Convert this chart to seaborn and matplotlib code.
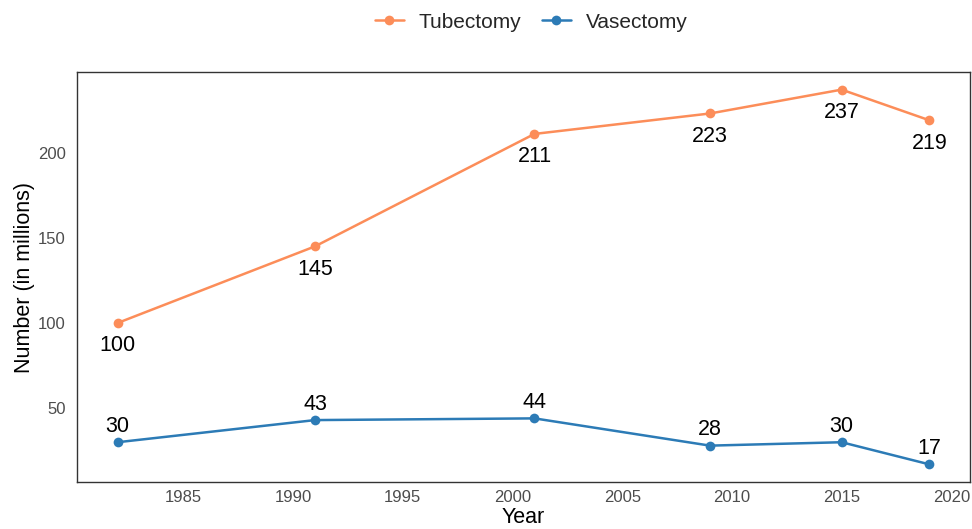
import matplotlib
matplotlib.use("Agg")
import matplotlib.pyplot as plt
import seaborn as sns
import pandas as pd

years = [1982, 1991, 2001, 2009, 2015, 2019]
tubectomy = [100, 145, 211, 223, 237, 219]
vasectomy = [30, 43, 44, 28, 30, 17]
series_names = ["Tubectomy", "Vasectomy"]
colors = {"Tubectomy": "#FC8D59", "Vasectomy": "#2C7BB6"}

df = pd.DataFrame({
    "Year": years * 2,
    "Value": tubectomy + vasectomy,
    "Method": [series_names[0]] * len(years) + [series_names[1]] * len(years),
})

sns.set_theme(style="white")
plt.rcParams["font.family"] = ["Liberation Sans", "DejaVu Sans"]

fig = plt.figure(figsize=(9.72, 5.29), dpi=100)
ax = fig.add_axes([77/972, 1-482/529, (970-77)/972, (482-72)/529])

sns.lineplot(data=df, x="Year", y="Value", hue="Method", hue_order=series_names,
             palette=colors, marker="o", markersize=7, markeredgewidth=0,
             linewidth=1.8, ax=ax, legend=True)

for x, y in zip(years, tubectomy):
    ax.annotate(str(y), (x, y), xytext=(0, -9), textcoords="offset points",
                ha="center", va="top", fontsize=15.5, color="black")
for x, y in zip(years, vasectomy):
    ax.annotate(str(y), (x, y), xytext=(0, 4), textcoords="offset points",
                ha="center", va="bottom", fontsize=15.5, color="black")

ax.set_xlim(1980.15, 2020.85)
ax.set_ylim(6.65, 247.35)
ax.set_xticks([1985, 1990, 1995, 2000, 2005, 2010, 2015, 2020])
ax.set_yticks([50, 100, 150, 200])
ax.tick_params(axis="both", labelsize=12, labelcolor="#4D4D4D", length=0)
ax.tick_params(axis="x", pad=6)
ax.tick_params(axis="y", pad=8)
ax.set_xlabel("Year", fontsize=15.5, color="black", labelpad=1)
ax.set_ylabel("Number (in millions)", fontsize=15.5, color="black", labelpad=2)
ax.grid(False)
for s in ax.spines.values():
    s.set_color("#333333")
    s.set_linewidth(1.0)

handles, labels = ax.get_legend_handles_labels()
ax.legend(handles, labels, loc="center", bbox_to_anchor=(531/972, 1 - 22/529),
          bbox_transform=fig.transFigure, ncol=2, frameon=False, fontsize=15,
          handlelength=1.4, columnspacing=1.0, handletextpad=0.7)

fig.savefig("out.png", dpi=100)
